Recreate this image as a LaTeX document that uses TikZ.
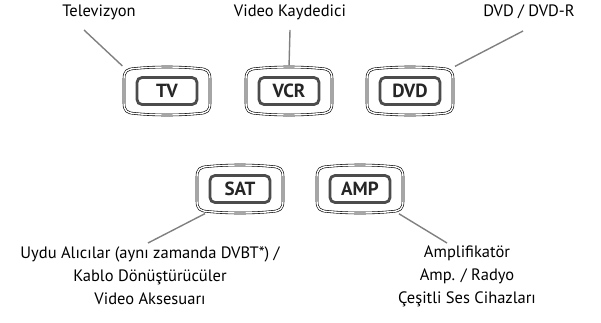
\documentclass[tikz,border=0pt]{standalone}
\usepackage{fontspec}
\setmainfont{PT Sans}
\usetikzlibrary{positioning,calc}

\tikzset{
  caption/.style={font=\fontsize{16.5}{23}\selectfont, align=center, inner sep=0pt},
  keyframe/.style={minimum width=86pt, minimum height=47pt, inner sep=0pt},
  keycap/.style={draw=black!70, line width=2.8pt, rounded corners=5pt, fill=white,
    minimum width=60pt, minimum height=27pt, inner sep=0pt, text=black!85,
    font=\fontsize{19}{19}\selectfont\bfseries},
  keyline/.style={draw=black, line width=0.6pt, double=white, double distance=1.4pt},
  leader/.style={draw=black!50, line width=1.4pt, shorten >=2pt},
}

\begin{document}
\begin{tikzpicture}[x=1pt,y=1pt]
  \useasboundingbox (0,0) rectangle (601,322);
  % key frames, top row and bottom row
  \node[keyframe] (tvkey) at (167,231) {};
  \node[keyframe] (vcrkey) at (289,231) {};
  \node[keyframe] (dvdkey) at (410,231) {};
  \node[keyframe] (satkey) at (240,133) {};
  \node[keyframe] (ampkey) at (360,133) {};
  % key caps
  \node[keycap] (tv) at (tvkey) {TV};
  \node[keycap] (vcr) at (vcrkey) {VCR};
  \node[keycap] (dvd) at (dvdkey) {DVD};
  \node[keycap] (sat) at (satkey) {SAT};
  \node[keycap] (amp) at (ampkey) {AMP};
  % outer double outline, slightly bulged top and bottom
  \foreach \k in {tvkey,vcrkey,dvdkey,satkey,ampkey}
    \draw[keyline, shift={(\k.center)}] (-43,-12) -- (-43,12)
      .. controls (-43,20) and (-40,22) .. (-32,22.5)
      .. controls (-12,24.5) and (12,24.5) .. (32,22.5)
      .. controls (40,22) and (43,20) .. (43,12) -- (43,-12)
      .. controls (43,-20) and (40,-22) .. (32,-22.5)
      .. controls (12,-24.5) and (-12,-24.5) .. (-32,-22.5)
      .. controls (-40,-22) and (-43,-20) .. (-43,-12) -- cycle;
  % device captions
  \node[caption] (tvtxt) at (99,310) {Televizyon};
  \node[caption] (vcrtxt) at (290,310) {Video Kaydedici};
  \node[caption] (dvdtxt) at (529,310) {DVD / DVD-R};
  \node[caption] (sattxt) at (150,46) {Uydu Alıcılar (aynı zamanda DVBT*) /\\
    Kablo Dönüştürücüler\\Video Aksesuarı};
  \node[caption] (amptxt) at (467,46) {Amplifikatör\\Amp. / Radyo\\
    Çeşitli Ses Cihazları};
  % leader lines
  \coordinate (tvtip) at (84,292);
  \coordinate (vcrtip) at (290,292);
  \coordinate (dvdtip) at (523,291);
  \coordinate (sattip) at (148,79);
  \coordinate (amptip) at (447,79);
  \draw[leader] (tvtip) -- (tvkey.north west);
  \draw[leader] (vcrtip) -- (vcrkey.north);
  \draw[leader] (dvdtip) -- (dvdkey.north east);
  \draw[leader] (sattip) -- ([xshift=10pt]satkey.south west);
  \draw[leader] (amptip) -- ([xshift=-6pt]ampkey.south east);
\end{tikzpicture}
\end{document}
